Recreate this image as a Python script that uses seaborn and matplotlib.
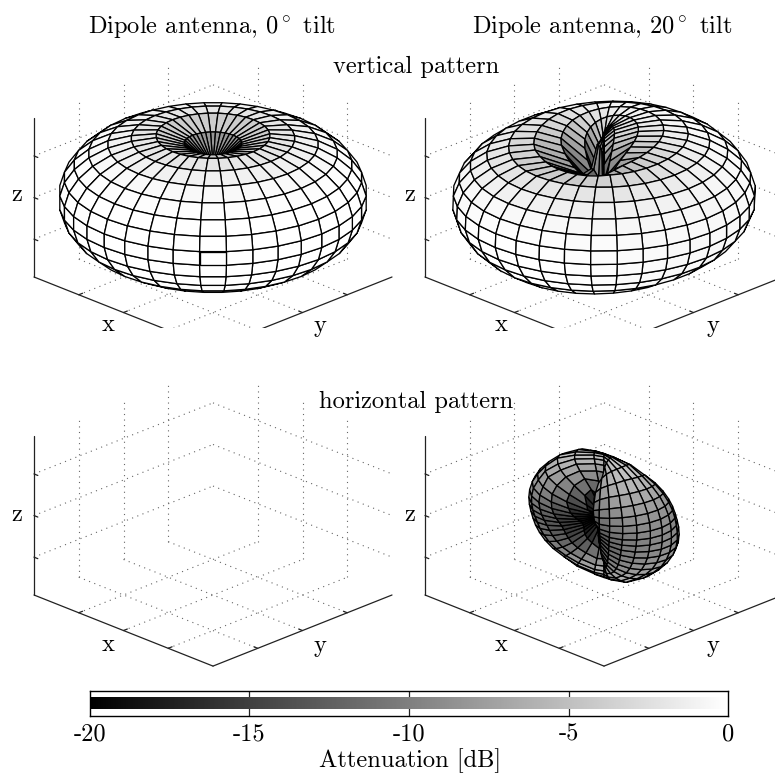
import numpy as np
import matplotlib
matplotlib.use("Agg")
import matplotlib.pyplot as plt
import seaborn as sns
from mpl_toolkits.mplot3d import proj3d
from mpl_toolkits.mplot3d.art3d import Poly3DCollection

sns.set_theme(style="white")
plt.rcParams["font.family"] = ["cmr10", "DejaVu Serif"]
plt.rcParams["mathtext.fontset"] = "cm"
plt.rcParams["axes.unicode_minus"] = False
plt.rcParams["axes.formatter.use_mathtext"] = True

W, H = 775, 778
GRAY = sns.color_palette("gray", as_cmap=True)

# Radius (= 1 + dB/20) against angle from the dipole axis
ANGLE_DEG = [0, 5, 15, 25, 35, 45, 55, 65, 75, 85, 95, 105, 115, 125, 135, 145, 155, 165, 175, 180]
R_PATTERN = [0.0, 0.47, 0.72, 0.875, 0.925, 0.965, 0.985, 0.995, 1.0, 1.0,
             1.0, 1.0, 0.995, 0.985, 0.965, 0.925, 0.875, 0.72, 0.47, 0.0]
MERIDIAN_DEG = list(range(0, 361, 10))

TILT_DEG = 20
TILT_AZIMUTH_DEG = -85

COL_TITLES = ["Dipole antenna, $0^\\circ$ tilt", "Dipole antenna, $20^\\circ$ tilt"]
ROW_TITLES = ["vertical pattern", "horizontal pattern"]
CBAR_TICKS = [-20, -15, -10, -5, 0]
CBAR_LABEL = "Attenuation [dB]"

XLIM = 0.82
ZLIM = 1.02
TICKS_XY = [-0.41, 0.0, 0.41]
TICKS_Z = [-0.534, 0.0, 0.534]
ELEV = 23.4
FS = 17.6


def mesh():
    th, ph = np.meshgrid(np.radians(ANGLE_DEG), np.radians(MERIDIAN_DEG), indexing="ij")
    return th, ph, np.stack([np.sin(th) * np.cos(ph), np.sin(th) * np.sin(ph), np.cos(th)], -1)


def pattern_radius(tilt_deg, polarisation):
    """Gain of the table, minus the polarisation loss of the tilted dipole."""
    th, ph, d = mesh()
    t, p = np.radians(tilt_deg), np.radians(TILT_AZIMUTH_DEG)
    a = np.array([np.sin(t) * np.cos(p), np.sin(t) * np.sin(p), np.cos(t)])
    big = np.degrees(np.arccos(np.clip(d @ a, -1, 1)))
    gain = np.interp(big, ANGLE_DEG, R_PATTERN)
    if polarisation == "vertical":
        comp = np.sin(t) * np.cos(th) * np.cos(ph - p) - np.cos(t) * np.sin(th)
    else:
        comp = np.sin(t) * np.sin(ph - p)
    sin_big = np.maximum(np.sin(np.radians(big)), 1e-6)
    loss = np.log10(np.maximum(np.abs(comp) / sin_big, 1e-6))
    return np.clip(gain + np.minimum(loss, 0), 0, 1)


def surface(ax, r):
    """Mesh drawn as polygons, keeping only those that face the viewer."""
    th, ph, d = mesh()
    P = r[..., None] * d
    M = ax.get_proj()
    sx, sy, _ = proj3d.proj_transform(P[..., 0].ravel(), P[..., 1].ravel(), P[..., 2].ravel(), M)
    sx, sy = sx.reshape(r.shape), sy.reshape(r.shape)
    polys, colors = [], []
    for i in range(r.shape[0] - 1):
        for j in range(r.shape[1] - 1):
            idx = [(i, j), (i + 1, j), (i + 1, j + 1), (i, j + 1)]
            area = 0.0
            for k in range(4):
                a, b = idx[k], idx[(k + 1) % 4]
                area += sx[a] * sy[b] - sx[b] * sy[a]
            if area <= 0:
                continue
            polys.append([P[q] for q in idx])
            colors.append(GRAY(float(np.clip(np.mean([r[q] for q in idx]), 0, 1))))
    coll = Poly3DCollection(polys, facecolors=colors, edgecolors="black", linewidths=0.95,
                            zsort="average", zorder=3)
    ax.add_collection3d(coll)


def frame(ax):
    xl, zl = XLIM, ZLIM
    dot = dict(color="#666666", lw=0.8, ls=(0, (1, 4)), zorder=1)
    for t in TICKS_XY:
        ax.plot([t, t], [-xl, xl], [-zl, -zl], **dot)
        ax.plot([-xl, xl], [t, t], [-zl, -zl], **dot)
        ax.plot([t, t], [xl, xl], [-zl, zl], **dot)
        ax.plot([-xl, -xl], [t, t], [-zl, zl], **dot)
    for t in TICKS_Z:
        ax.plot([-xl, xl], [xl, xl], [t, t], **dot)
        ax.plot([-xl, -xl], [-xl, xl], [t, t], **dot)
    solid = dict(color="#222222", lw=0.9, zorder=2)
    ax.plot([-xl, xl], [-xl, -xl], [-zl, -zl], **solid)
    ax.plot([xl, xl], [-xl, xl], [-zl, -zl], **solid)
    ax.plot([-xl, -xl], [-xl, -xl], [-zl, zl], **solid)
    tk = 0.035
    for t in TICKS_XY:
        ax.plot([t, t], [-xl, -xl + tk], [-zl, -zl], **solid)
        ax.plot([xl, xl - tk], [t, t], [-zl, -zl], **solid)
    for t in TICKS_Z:
        ax.plot([-xl, -xl + tk], [-xl, -xl], [t, t], **solid)


def make_panel(fig, left_px, floor_y_px):
    """3D axes whose left floor corner lands on (left_px, floor_y_px)."""
    S0 = 500.0
    ax = fig.add_axes([0, 0, S0 / W, S0 / H], projection="3d", computed_zorder=False)
    ax.set_proj_type("ortho")
    ax.view_init(elev=ELEV, azim=-45)
    ax.set_xlim(-XLIM, XLIM)
    ax.set_ylim(-XLIM, XLIM)
    ax.set_zlim(-ZLIM, ZLIM)
    ax.set_box_aspect((1, 1, 0.684))
    ax.set_axis_off()

    def px(p):
        x, y, _ = proj3d.proj_transform(*p, ax.get_proj())
        return ax.transData.transform((x, y))

    L0 = px((-XLIM, -XLIM, -ZLIM))
    F0 = px((XLIM, -XLIM, -ZLIM))
    S = S0 * 179.0 / (F0[0] - L0[0])
    off = L0 * S / S0
    ax.set_position([(left_px - off[0]) / W, ((H - floor_y_px) - off[1]) / H, S / W, S / H])
    return ax


fig = plt.figure(figsize=(W / 100, H / 100), dpi=100)

ax = make_panel(fig, 34, 277)
frame(ax)
surface(ax, pattern_radius(0, "vertical"))
ax = make_panel(fig, 425, 277)
frame(ax)
surface(ax, pattern_radius(TILT_DEG, "vertical"))
ax = make_panel(fig, 34, 595)
frame(ax)
ax = make_panel(fig, 425, 595)
frame(ax)
surface(ax, pattern_radius(TILT_DEG, "horizontal"))


def label(x, y, s, size=FS):
    fig.text(x / W, 1 - y / H, s, ha="center", va="center", fontsize=size, color="black")


label(212, 27, COL_TITLES[0])
label(602, 27, COL_TITLES[1])
label(416, 67, ROW_TITLES[0])
label(416, 402, ROW_TITLES[1])
for dx in (0, 393):
    for dy in (0, 320):
        label(17 + dx, 195 + dy, "z")
        label(108 + dx, 325 + dy, "x")
        label(320 + dx, 326 + dy, "y")

# colour bar
cax = fig.add_axes([90 / W, 1 - 716 / H, 638 / W, 25 / H])
gradient = np.linspace(CBAR_TICKS[0], CBAR_TICKS[-1], 512)[None, :]
cax.imshow(gradient, extent=(CBAR_TICKS[0], CBAR_TICKS[-1], 0.27, 0.72), aspect="auto",
           cmap=GRAY, vmin=CBAR_TICKS[0], vmax=CBAR_TICKS[-1], zorder=2)
cax.set_xlim(CBAR_TICKS[0], CBAR_TICKS[-1])
cax.set_ylim(0, 1)
cax.set_yticks([])
cax.set_xticks(CBAR_TICKS)
cax.set_xticklabels([str(t) for t in CBAR_TICKS], fontsize=FS, color="black")
cax.tick_params(axis="x", length=0, pad=5)
for t in CBAR_TICKS[1:-1]:
    cax.axvline(t, color="#222222", lw=0.9, zorder=1)
for s in cax.spines.values():
    s.set_visible(True)
    s.set_color("black")
    s.set_linewidth(1.0)
label(410, 761, CBAR_LABEL)

fig.savefig("out.png", dpi=100)
